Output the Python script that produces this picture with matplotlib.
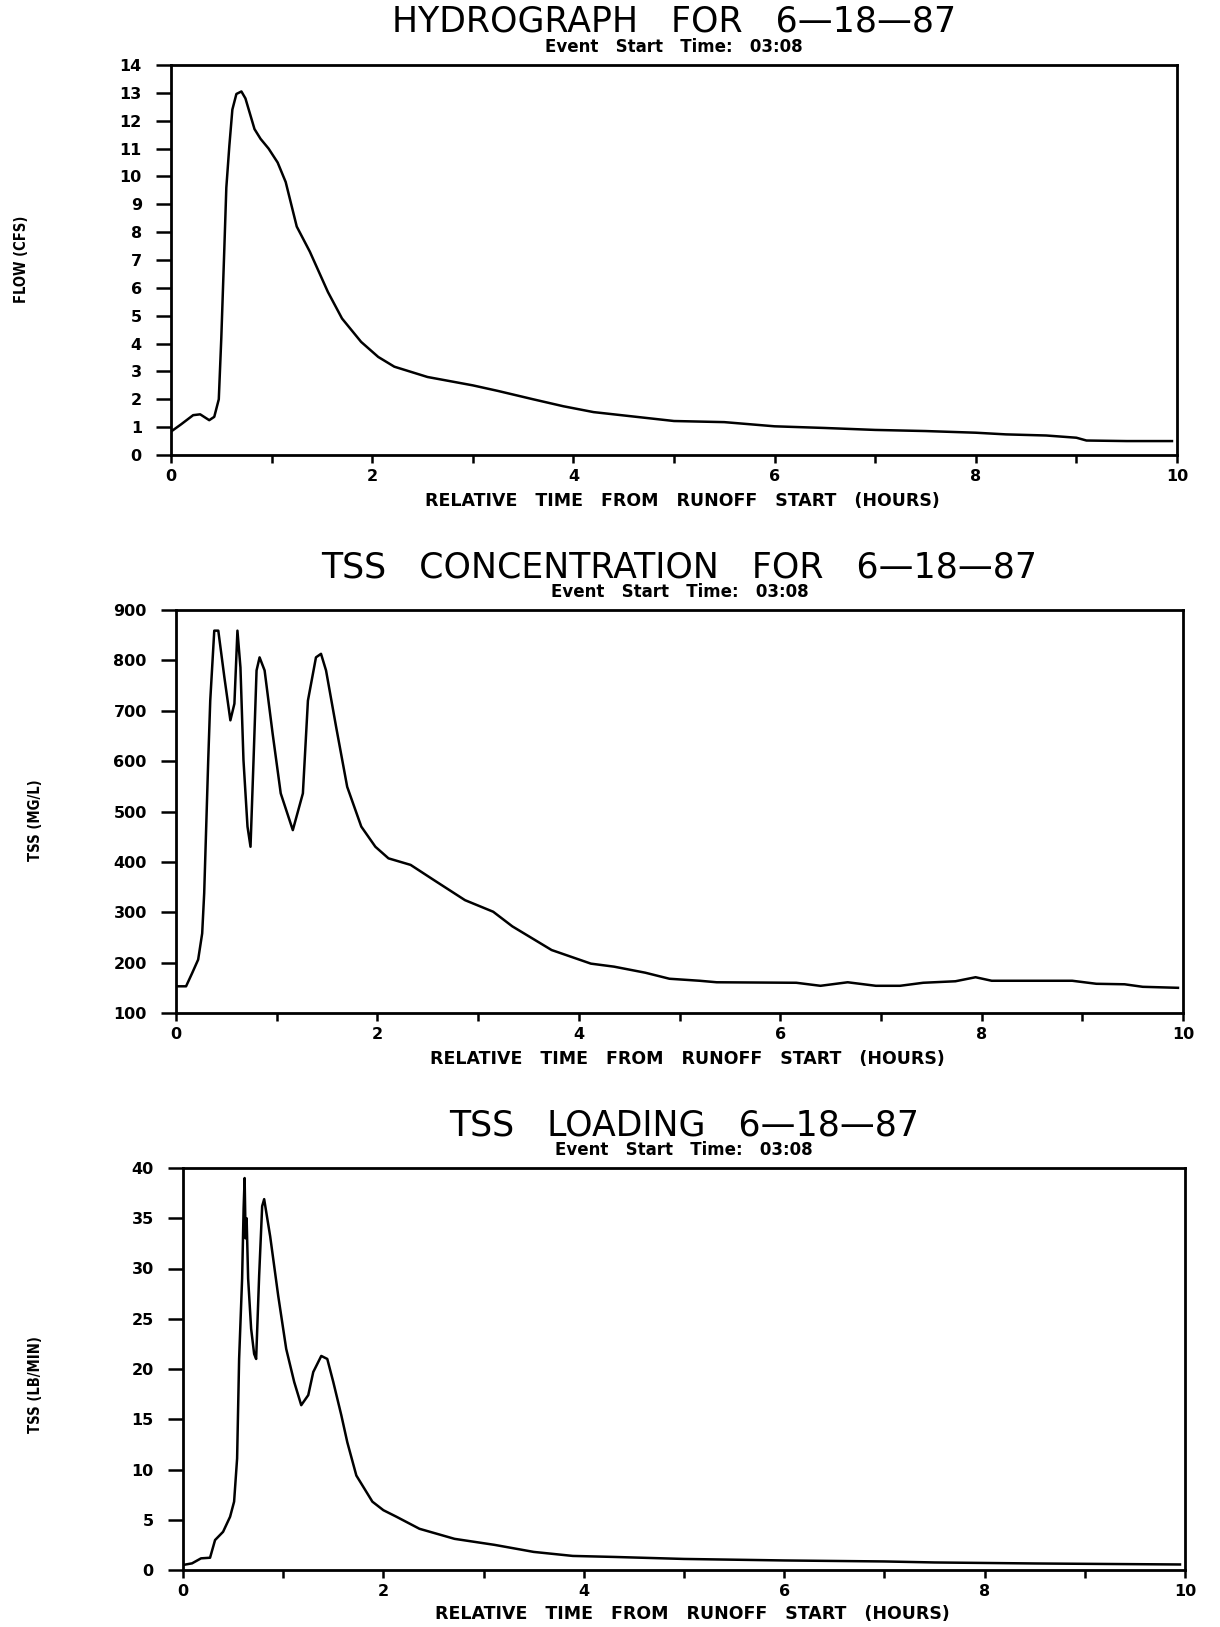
import matplotlib
matplotlib.use("Agg")
import matplotlib.pyplot as plt
import numpy as np

# hydrograph (flow, cfs)
hydro_t = [0, 0.1, 0.22, 0.29, 0.38, 0.43, 0.475, 0.5, 0.53, 0.55, 0.58, 0.61,
           0.65, 0.70, 0.74, 0.83, 0.89, 0.97, 1.06, 1.14, 1.25, 1.38, 1.56, 1.70,
           1.89, 2.06, 2.22, 2.55, 3.0, 3.25, 3.6, 3.9, 4.2, 4.5, 5.0, 5.5, 6.0,
           6.5, 7.0, 7.5, 8.0, 8.3, 8.7, 9.0, 9.1, 9.5, 9.95]
hydro_q = [0.84, 1.1, 1.43, 1.46, 1.25, 1.37, 2.0, 4.2, 7.4, 9.6, 11.1, 12.4,
           12.96, 13.05, 12.8, 11.7, 11.35, 11.0, 10.5, 9.8, 8.2, 7.3, 5.85, 4.9,
           4.06, 3.52, 3.17, 2.8, 2.5, 2.3, 2.0, 1.75, 1.54, 1.42, 1.22, 1.18, 1.03,
           0.97, 0.9, 0.86, 0.8, 0.74, 0.7, 0.62, 0.52, 0.5, 0.5]

# TSS concentration (mg/l)
tss_t = [0.02, 0.1, 0.16, 0.22, 0.26, 0.28, 0.30, 0.32, 0.34, 0.38, 0.42, 0.48,
         0.54, 0.58, 0.61, 0.64, 0.67, 0.71, 0.74, 0.77, 0.80, 0.83, 0.88, 0.96,
         1.04, 1.16, 1.26, 1.31, 1.39, 1.44, 1.49, 1.59, 1.70, 1.84, 1.98, 2.11,
         2.33, 2.56, 2.87, 3.15, 3.34, 3.73, 4.12, 4.35, 4.66, 4.9, 5.2, 5.37,
         6.16, 6.40, 6.67, 6.95, 7.19, 7.42, 7.74, 7.94, 8.1, 8.9, 9.14, 9.42,
         9.6, 9.95]
tss_c = [153, 153, 179, 206, 258, 338, 470, 602, 720, 859, 859, 767,
         681, 714, 859, 786, 602, 470, 430, 602, 780, 806, 780, 654,
         536, 463, 536, 720, 806, 813, 780, 668, 549, 470, 430, 407,
         394, 364, 324, 301, 272, 225, 198, 192, 180, 168, 164, 161,
         160, 154, 161, 154, 154, 160, 163, 171, 164, 164, 158, 157,
         152, 150]

# TSS loading (lb/min)
load_t = [0, 0.09, 0.18, 0.27, 0.32, 0.40, 0.47, 0.51, 0.54, 0.56, 0.59, 0.605,
          0.615, 0.625, 0.635, 0.65, 0.68, 0.71, 0.73, 0.76, 0.79, 0.81, 0.87,
          0.95, 1.03, 1.11, 1.18, 1.25, 1.30, 1.38, 1.44, 1.50, 1.58, 1.64, 1.73,
          1.89, 2.0, 2.13, 2.36, 2.71, 3.11, 3.5, 3.89, 4.3, 5.0, 6.0, 7.0, 7.5,
          8.5, 9.2, 9.95]
load_l = [0.5, 0.66, 1.16, 1.22, 2.98, 3.8, 5.3, 6.8, 11.1, 21, 29, 36,
          39, 33, 35, 29, 24, 21.5, 21, 29.3, 36.2, 36.9, 33.2,
          27.3, 22, 18.7, 16.4, 17.4, 19.7, 21.3, 21, 18.7, 15.4, 12.7, 9.4,
          6.8, 5.95, 5.3, 4.1, 3.1, 2.5, 1.8, 1.4, 1.3, 1.1, 0.95, 0.85, 0.75,
          0.65, 0.6, 0.55]

plt.rcParams['font.family'] = ['DejaVu Sans']

W, H = 1220, 1627
fig = plt.figure(figsize=(W / 100, H / 100), dpi=100)


def add_panel(left, right, top, bottom):
    return fig.add_axes([left / W, 1 - bottom / H, (right - left) / W, (bottom - top) / H])


panels = [
    dict(box=(171, 1177, 65, 455), t=hydro_t, v=hydro_q, ylim=(0, 14),
         yticks=np.arange(0, 15, 1), title="HYDROGRAPH   FOR   6—18—87",
         ylabel="FLOW (CFS)", ylab_xy=(22, 259), xlab_y=501),
    dict(box=(176, 1183, 610, 1013), t=tss_t, v=tss_c, ylim=(100, 900),
         yticks=np.arange(100, 901, 100), title="TSS   CONCENTRATION   FOR   6—18—87",
         ylabel="TSS (MG/L)", ylab_xy=(36, 820), xlab_y=1059),
    dict(box=(183, 1185, 1168, 1570), t=load_t, v=load_l, ylim=(0, 40),
         yticks=np.arange(0, 41, 5), title="TSS   LOADING   6—18—87",
         ylabel="TSS (LB/MIN)", ylab_xy=(36, 1385), xlab_y=1614),
]

for p in panels:
    left, right, top, bottom = p['box']
    ax = add_panel(left, right, top, bottom)
    ax.plot(p['t'], p['v'], color='black', lw=1.8, solid_joinstyle='round')
    ax.set_xlim(0, 10)
    ax.set_ylim(*p['ylim'])
    ax.set_yticks(p['yticks'])
    ax.set_xticks(np.arange(0, 11, 1))
    ax.set_xticklabels([str(i) if i % 2 == 0 else '' for i in range(11)])
    for s in ax.spines.values():
        s.set_linewidth(2.0)
    ax.tick_params(axis='y', direction='out', length=11, width=1.8, pad=10,
                   labelsize=11.5)
    ax.tick_params(axis='x', direction='out', length=6, width=1.8, pad=4,
                   labelsize=11.5)
    for lab in ax.get_xticklabels() + ax.get_yticklabels():
        lab.set_fontweight('bold')

    cx = (left + right) / 2 / W
    fig.text(cx, 1 - 22 / H - (top - 65) / H, p['title'], ha='center', va='center',
             fontsize=25, fontweight='normal')
    fig.text(cx, 1 - 47 / H - (top - 65) / H, "Event   Start   Time:   03:08",
             ha='center', va='center', fontsize=12, fontweight='bold')
    fig.text(p['ylab_xy'][0] / W, 1 - p['ylab_xy'][1] / H, p['ylabel'],
             rotation=90, ha='center', va='center', fontsize=10.5,
             fontweight='bold', fontstretch='condensed')
    fig.text((cx * W + 8) / W, 1 - p['xlab_y'] / H,
             "RELATIVE   TIME   FROM   RUNOFF   START   (HOURS)",
             ha='center', va='center', fontsize=12.5, fontweight='bold')

fig.savefig('out.png', dpi=100)
